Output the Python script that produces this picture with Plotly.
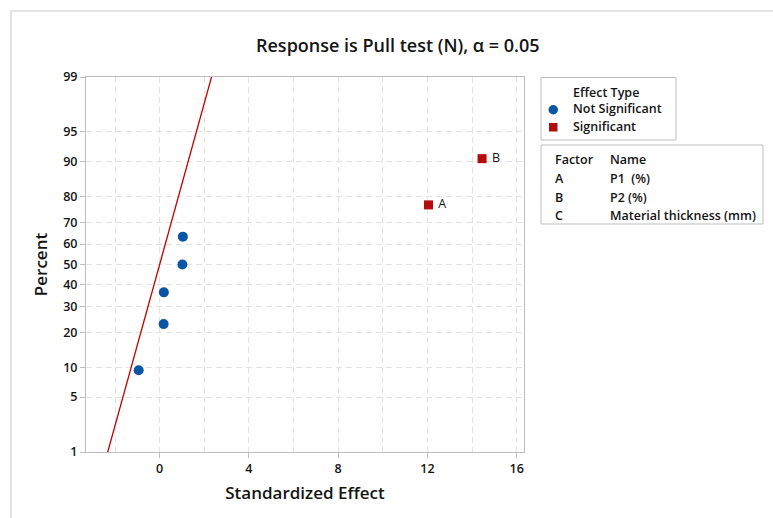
import plotly.graph_objects as go
from statistics import NormalDist

# Normal probability plot of standardized effects (2^3 factorial, 7 effects)
effect_names = ["", "", "", "", "", "A", "B"]
standardized_effects = [-0.94, 0.18, 0.19, 1.02, 1.04, 12.05, 14.45]
significant = [False, False, False, False, False, True, True]
pse_sigma = 1.0  # slope of the reference line (x = sigma * z)
alpha_text = "Response is Pull test (N), α = 0.05"

pct_ticks = [1, 5, 10, 20, 30, 40, 50, 60, 70, 80, 90, 95, 99]
x_ticks = [0, 4, 8, 12, 16]

factor_codes = ["A", "B", "C"]
factor_labels = ["P1  (%)", "P2 (%)", "Material thickness (mm)"]

nd = NormalDist()
n = len(standardized_effects)
# Minitab plotting positions (i - 0.3) / (n + 0.4)
order = sorted(range(n), key=lambda i: standardized_effects[i])
zpos = [0.0] * n
for rank, i in enumerate(order, start=1):
    zpos[i] = nd.inv_cdf((rank - 0.3) / (n + 0.4))

zlim = nd.inv_cdf(0.99)
tick_z = [nd.inv_cdf(p / 100) for p in pct_ticks]

BLUE = "#0a55a6"
RED = "#b40c0c"
LINE_RED = "#c00000"
GRID = "#e3e3e3"
AXIS = "#bdbdbd"
TXT = "#141414"
FONT = "Open Sans"
WT = 600
SMALL = 12.5

fig = go.Figure()

# reference line
zl = [-zlim * 1.05, zlim * 1.05]
fig.add_trace(go.Scatter(
    x=[pse_sigma * z for z in zl], y=zl, mode="lines",
    line=dict(color=LINE_RED, width=1.3), showlegend=False, hoverinfo="skip"))

ns = [i for i in range(n) if not significant[i]]
sg = [i for i in range(n) if significant[i]]

fig.add_trace(go.Scatter(
    x=[standardized_effects[i] for i in ns], y=[zpos[i] for i in ns],
    mode="markers", marker=dict(symbol="circle", size=10, color=BLUE),
    name="Not Significant", showlegend=False))

fig.add_trace(go.Scatter(
    x=[standardized_effects[i] for i in sg], y=[zpos[i] for i in sg],
    mode="markers+text", text=[" " + effect_names[i] for i in sg],
    textposition="middle right",
    textfont=dict(size=SMALL, color=TXT, family=FONT, weight=400),
    marker=dict(symbol="square", size=9, color=RED),
    name="Significant", showlegend=False))

# plot area geometry (pixels)
W, H = 773, 518
L, R, T, B = 86, 249, 77, 66
PW, PH = W - L - R, H - T - B


def px(x):
    return (x - L) / PW


def py(y):
    return (H - B - y) / PH


shapes = []
annotations = []


def label(x, y, text, anchor="left", size=SMALL, weight=WT):
    annotations.append(dict(x=px(x), y=py(y), xref="paper", yref="paper",
                            text=text, showarrow=False, xanchor=anchor,
                            yanchor="middle",
                            font=dict(size=size, color=TXT, family=FONT, weight=weight)))


# outer frame
shapes.append(dict(type="rect", xref="paper", yref="paper",
                   x0=px(11), x1=px(790), y0=py(535), y1=py(11),
                   line=dict(color="#dadada", width=1.5), layer="below"))

# Effect type box
shapes.append(dict(type="rect", xref="paper", yref="paper",
                   x0=px(541), x1=px(676), y0=py(140), y1=py(77.5),
                   line=dict(color=AXIS, width=1)))
label(571, 92, "Effect Type")
label(571, 108.5, "Not Significant")
label(571, 127, "Significant")
shapes.append(dict(type="circle", xref="paper", yref="paper",
                   x0=px(548.5), x1=px(558), y0=py(114.5), y1=py(105),
                   fillcolor=BLUE, line=dict(width=0)))
shapes.append(dict(type="rect", xref="paper", yref="paper",
                   x0=px(549), x1=px(557.5), y0=py(131.5), y1=py(123),
                   fillcolor=RED, line=dict(width=0)))

# factor table box
shapes.append(dict(type="rect", xref="paper", yref="paper",
                   x0=px(541), x1=px(763), y0=py(224), y1=py(145),
                   line=dict(color=AXIS, width=1)))
label(553, 159, "Factor")
label(607.5, 159, "Name")
for k, (code, lab) in enumerate(zip(factor_codes, factor_labels)):
    yy = 178.5 + k * 18.5
    label(553, yy, code)
    label(607.5, yy, lab)

# title
label(397.5, 45, alpha_text, anchor="center", size=18)

fig.update_layout(
    width=W, height=H,
    margin=dict(l=L, r=R, t=T, b=B, autoexpand=False),
    paper_bgcolor="white", plot_bgcolor="white",
    font=dict(family=FONT, color=TXT, size=SMALL),
    shapes=shapes, annotations=annotations,
    showlegend=False,
)

fig.update_xaxes(
    range=[-3.30, 16.33], tickvals=x_ticks, ticks="outside", ticklen=5,
    tickcolor=AXIS, showline=True, linecolor=AXIS, linewidth=1, mirror=True,
    showgrid=True, gridcolor=GRID, griddash="6px,4px", gridwidth=1,
    minor=dict(tickvals=[-2, 2, 6, 10, 14], showgrid=True, gridcolor=GRID,
               griddash="6px,4px", ticks=""),
    zeroline=False, tickfont=dict(size=SMALL, color=TXT, family=FONT, weight=WT),
    title=dict(text="Standardized Effect",
               font=dict(size=17, color=TXT, family=FONT, weight=WT), standoff=11),
    automargin=False,
)

fig.update_yaxes(
    range=[-zlim, zlim], tickvals=tick_z, ticktext=[str(p) for p in pct_ticks],
    ticks="outside", ticklen=5, tickcolor=AXIS, showline=True, linecolor=AXIS,
    linewidth=1, mirror=True, showgrid=True, gridcolor=GRID,
    griddash="6px,4px", gridwidth=1, zeroline=False,
    tickfont=dict(size=SMALL, color=TXT, family=FONT, weight=WT),
    title=dict(text="Percent", font=dict(size=17, color=TXT, family=FONT, weight=WT),
               standoff=11),
    automargin=False,
)

fig.write_html("out.html")
